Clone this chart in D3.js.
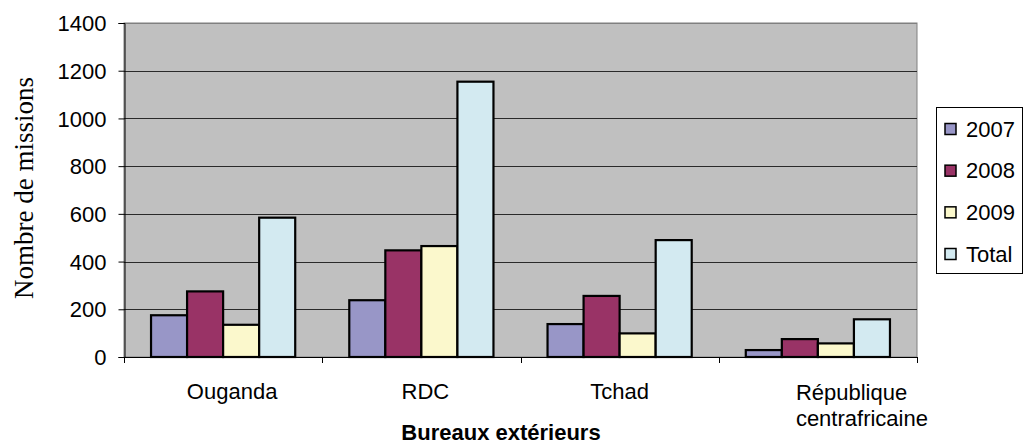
<!DOCTYPE html>
<html>
<head>
<meta charset="utf-8">
<script src="https://cdn.jsdelivr.net/npm/d3@7"></script>
<style>
  html, body { margin: 0; padding: 0; background: #fff; }
  svg { display: block; }
  text { font-family: Arial, "Liberation Sans", sans-serif; fill: #000; }
</style>
</head>
<body>
<svg id="chart" width="1024" height="447"></svg>
<script>
// Field offices and mission counts per year
const offices = ["Ouganda", "RDC", "Tchad", "République centrafricaine"];
const seriesNames = ["2007", "2008", "2009", "Total"];
const missions2007 = [175, 238, 138, 29];
const missions2008 = [275, 447, 256, 75];
const missions2009 = [135, 465, 99, 57];
const missionsTotal = [584, 1154, 490, 158];
const yTicks = [0, 200, 400, 600, 800, 1000, 1200, 1400];

const seriesValues = [missions2007, missions2008, missions2009, missionsTotal];
const colors = ["#9896c7", "#993366", "#fbf8cc", "#d3eaf1"];
const fontSize = 22;

const svg = d3.select("#chart");
const plot = { left: 124, top: 23, width: 793, height: 334 };

const x = d3.scaleBand().domain(offices).range([plot.left, plot.left + plot.width]).paddingInner(0).paddingOuter(0);
// bars take 4 of 5.5 slots per category (150% gap between groups)
const bandInner = x.bandwidth() * 4 / 5.5;
const x1 = d3.scaleBand().domain(seriesNames).range([0, bandInner]);
const y = d3.scaleLinear().domain([0, 1400]).range([plot.top + plot.height, plot.top]);

// plot background
svg.append("rect")
  .attr("x", plot.left).attr("y", plot.top)
  .attr("width", plot.width).attr("height", plot.height)
  .attr("fill", "#c0c0c0")
  .attr("stroke", "#808080").attr("stroke-width", 1);

// horizontal gridlines
svg.append("g").selectAll("line")
  .data(yTicks.filter(d => d > 0))
  .join("line")
  .attr("x1", plot.left).attr("x2", plot.left + plot.width)
  .attr("y1", d => Math.round(y(d)) + 0.5).attr("y2", d => Math.round(y(d)) + 0.5)
  .attr("stroke", d => d === 1400 ? "#808080" : "#2a2a2a").attr("stroke-width", 1.2);

// bars
const groups = svg.append("g").selectAll("g")
  .data(offices)
  .join("g")
  .attr("transform", d => `translate(${x(d) + (x.bandwidth() - bandInner) / 2},0)`);

groups.selectAll("rect")
  .data((d, i) => seriesNames.map((s, k) => ({ s, k, v: seriesValues[k][i] })))
  .join("rect")
  .attr("x", d => x1(d.s))
  .attr("width", x1.bandwidth())
  .attr("y", d => y(d.v))
  .attr("height", d => y(0) - y(d.v))
  .attr("fill", d => colors[d.k])
  .attr("stroke", "#000").attr("stroke-width", 2.2);

// y axis
const yAxis = d3.axisLeft(y).tickValues(yTicks).tickSize(6).tickPadding(12).tickFormat(d3.format("d"));
const gy = svg.append("g")
  .attr("transform", `translate(${plot.left + 0.5},0)`)
  .call(yAxis);
gy.select(".domain").attr("stroke", "#000");
gy.selectAll(".tick line").attr("stroke", "#000");
gy.selectAll(".tick text").attr("font-size", fontSize).attr("font-family", "Arial, 'Liberation Sans', sans-serif").attr("dy", "0.35em");

// x axis line and category boundary ticks
const boundaries = offices.map(o => x(o)).concat([plot.left + plot.width]);
svg.append("line")
  .attr("x1", plot.left).attr("x2", plot.left + plot.width)
  .attr("y1", y(0) + 0.5).attr("y2", y(0) + 0.5)
  .attr("stroke", "#000");
svg.append("g").selectAll("line")
  .data(boundaries)
  .join("line")
  .attr("x1", d => Math.round(d) + 0.5).attr("x2", d => Math.round(d) + 0.5)
  .attr("y1", y(0)).attr("y2", y(0) + 6)
  .attr("stroke", "#000");

// category labels (long name wraps on two lines)
const catLabels = svg.append("g");
offices.forEach((o, i) => {
  const cx = x(o) + x.bandwidth() / 2;
  const words = o.split(" ");
  if (words.length > 1) {
    const t = catLabels.append("text")
      .attr("x", cx - 22).attr("y", 400)
      .attr("font-size", fontSize).attr("text-anchor", "start");
    words.forEach((w, j) => {
      t.append("tspan").attr("x", cx - 22).attr("dy", j === 0 ? 0 : 26).text(w);
    });
  } else {
    catLabels.append("text")
      .attr("x", cx + (i === 0 ? 9 : i === 1 ? 4 : 0)).attr("y", 399)
      .attr("font-size", fontSize).attr("text-anchor", "middle")
      .text(o);
  }
});

// axis titles
svg.append("text")
  .attr("x", 501).attr("y", 440)
  .attr("text-anchor", "middle")
  .attr("font-size", fontSize).attr("font-weight", "bold")
  .text("Bureaux extérieurs");

svg.append("text")
  .attr("transform", "translate(33,188) rotate(-90)")
  .attr("text-anchor", "middle")
  .attr("font-size", 27)
  .style("font-family", "'Times New Roman', 'Liberation Serif', serif")
  .text("Nombre de missions");

// legend
const legend = svg.append("g");
legend.append("rect")
  .attr("x", 936.5).attr("y", 107.5).attr("width", 86).attr("height", 166)
  .attr("fill", "#fff").attr("stroke", "#000").attr("stroke-width", 1);
const legendY = d3.scalePoint().domain(seriesNames).range([129, 254]);
const items = legend.selectAll("g.item")
  .data(seriesNames)
  .join("g").attr("class", "item")
  .attr("transform", d => `translate(0,${legendY(d)})`);
items.append("rect")
  .attr("x", 945).attr("y", -5.5).attr("width", 11).attr("height", 11)
  .attr("fill", (d, i) => colors[i])
  .attr("stroke", "#000").attr("stroke-width", 1.5);
items.append("text")
  .attr("x", 966).attr("y", 0).attr("dy", "0.35em")
  .attr("font-size", fontSize)
  .text(d => d);
</script>
</body>
</html>
